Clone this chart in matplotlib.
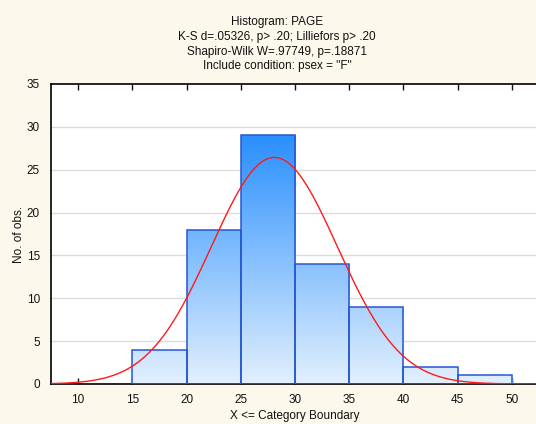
import numpy as np
import matplotlib
matplotlib.use("Agg")
import matplotlib.pyplot as plt
from matplotlib.colors import LinearSegmentedColormap
from matplotlib.patches import Rectangle

# Histogram data: bin edges and counts
bin_left = [15, 20, 25, 30, 35, 40, 45]
bin_width = 5
counts = [4, 18, 29, 14, 9, 2, 1]

# Fitted normal curve parameters
fit_mean = 28.1
fit_sd = 5.81
n_obs = 77

x_ticks = [10, 15, 20, 25, 30, 35, 40, 45, 50]
y_ticks = [0, 5, 10, 15, 20, 25, 30, 35]

title_lines = [
    "Histogram: PAGE",
    "K-S d=.05326, p> .20; Lilliefors p> .20",
    "Shapiro-Wilk W=.97749, p=.18871",
    'Include condition: psex = "F"',
]

plt.rcParams["font.family"] = ["Liberation Sans", "DejaVu Sans"]

bg = "#fdf8ec"
fig = plt.figure(figsize=(5.36, 4.24), dpi=100, facecolor=bg)
W, H = 536, 424
ax = fig.add_axes([51 / W, 1 - 384 / H, (540 - 51) / W, (384 - 84) / H])
ax.set_facecolor("white")

ax.set_xlim(7.5, 52.6)
ax.set_ylim(0, 35)

# horizontal grid
for yv in y_ticks[1:-1]:
    ax.axhline(yv, color="#dcdcdc", lw=1.0, zorder=0)

# gradient fill for bars
cmap = LinearSegmentedColormap.from_list("bargrad", ["#e2f0fd", "#2a8ffd"])
grad = np.linspace(0, 1, 256).reshape(-1, 1)
for left, c in zip(bin_left, counts):
    rect = Rectangle((left, 0), bin_width, c, facecolor="none",
                     edgecolor="#2457d4", lw=1.1, zorder=3)
    ax.add_patch(rect)
    im = ax.imshow(grad, cmap=cmap, origin="lower", aspect="auto",
                   extent=(7.5, 52.6, 0, 29), vmin=0, vmax=1, zorder=2,
                   interpolation="bilinear")
    im.set_clip_path(rect)

# normal fit curve
xs = np.linspace(7.5, 52.6, 400)
ys = n_obs * bin_width / (fit_sd * np.sqrt(2 * np.pi)) * np.exp(-0.5 * ((xs - fit_mean) / fit_sd) ** 2)
ax.plot(xs, ys, color="#ff1a1a", lw=1.0, zorder=4)

ax.set_xlim(7.5, 52.6)
ax.set_ylim(0, 35)
ax.set_xticks(x_ticks)
ax.set_yticks(y_ticks)
ax.tick_params(direction="in", length=4, width=1, labelsize=8.5, colors="#111111",
               top=True, pad=7)
ax.tick_params(axis="y", length=0, pad=8)
for s in ax.spines.values():
    s.set_color("black")
    s.set_linewidth(1.2)

# axis titles placed in figure pixels
fig.text(295 / W, 1 - 416 / H, "X <= Category Boundary", ha="center", va="center",
         fontsize=8.5, color="#111111")
fig.text(19 / W, 1 - 234 / H, "No. of obs.", ha="center", va="center",
         rotation=90, fontsize=8.5, color="#111111")

title_y = [22, 37, 51.5, 66]
for ty, line in zip(title_y, title_lines):
    fig.text(277 / W, 1 - ty / H, line, ha="center", va="center", fontsize=8.5,
             color="#111111")

fig.savefig("out.png", dpi=100, facecolor=bg)
